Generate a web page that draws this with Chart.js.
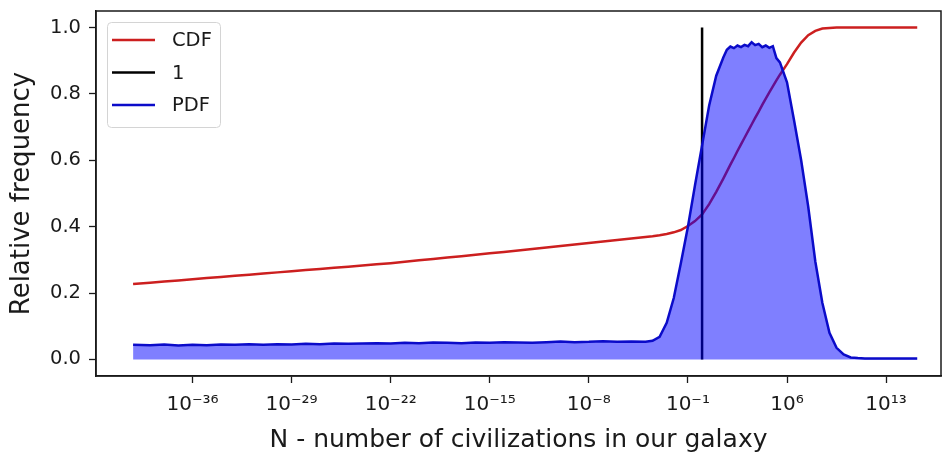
<!DOCTYPE html>
<html>
<head>
<meta charset="utf-8">
<script src="https://cdn.jsdelivr.net/npm/chart.js@4/dist/chart.umd.min.js"></script>
<style>
  html, body { margin: 0; padding: 0; background: #ffffff; }
  #wrap { width: 944px; height: 453px; }
</style>
</head>
<body>
<div id="wrap"><canvas id="chart" width="944" height="453"></canvas></div>
<script>
// log10(N) sample positions shared by both curves
const logN = [
  -40.2, -39, -38, -37, -36, -35, -34, -33, -32, -31, -30, -29, -28, -27, -26, -25,
  -24, -23, -22, -21, -20, -19, -18, -17, -16, -15, -14, -13, -12, -11, -10, -9,
  -8, -7, -6, -5, -4,
  -3.5, -3, -2.5, -2, -1.5, -1, -0.5, 0, 0.5, 1, 1.5, 1.75, 2, 2.25, 2.5, 2.75,
  3, 3.25, 3.5, 3.75, 4, 4.25, 4.5, 4.75, 5, 5.25, 5.5, 6, 6.5, 7, 7.5, 8, 8.5,
  9, 9.5, 10, 10.5, 11, 11.5, 12, 12.5, 13, 13.5, 14, 14.5, 15, 15.2
];

// probability density (relative frequency per bin)
const pdf = [
  0.044, 0.043, 0.045, 0.042, 0.044, 0.043, 0.045, 0.044, 0.046, 0.044, 0.046, 0.045,
  0.047, 0.046, 0.048, 0.047, 0.048, 0.049, 0.048, 0.050, 0.049, 0.051, 0.050, 0.049,
  0.051, 0.050, 0.052, 0.051, 0.050, 0.052, 0.054, 0.052, 0.053, 0.055, 0.053, 0.054,
  0.053,
  0.056, 0.068, 0.110, 0.185, 0.290, 0.400, 0.525, 0.645, 0.765, 0.855, 0.910, 0.933,
  0.943, 0.938, 0.946, 0.941, 0.948, 0.944, 0.956, 0.947, 0.951, 0.941, 0.946, 0.939,
  0.944, 0.908, 0.895, 0.835, 0.720, 0.600, 0.460, 0.295, 0.170, 0.080, 0.035, 0.015,
  0.006, 0.004, 0.003, 0.003, 0.003, 0.003, 0.003, 0.003, 0.003, 0.003, 0.003
];

// cumulative distribution
const cdf = [
  0.227, 0.231, 0.2346, 0.2381, 0.2415, 0.245, 0.2485, 0.252, 0.2554, 0.2588, 0.2623,
  0.2658, 0.2692, 0.2727, 0.2761, 0.2796, 0.2831, 0.2865, 0.290, 0.2942, 0.2985, 0.3027,
  0.307, 0.3112, 0.3154, 0.3197, 0.3239, 0.3282, 0.3326, 0.3371, 0.3416, 0.3461, 0.3506,
  0.3551, 0.3596, 0.3641, 0.3686,
  0.371, 0.374, 0.378, 0.383, 0.390, 0.402, 0.417, 0.437, 0.468, 0.505, 0.545, 0.566,
  0.587, 0.607, 0.628, 0.648, 0.668, 0.688, 0.708, 0.728, 0.747, 0.767, 0.786, 0.805,
  0.823, 0.841, 0.858, 0.890, 0.925, 0.955, 0.977, 0.990, 0.997, 0.999, 1.0, 1.0,
  1.0, 1.0, 1.0, 1.0, 1.0, 1.0, 1.0, 1.0, 1.0, 1.0, 1.0
];

// reference marker at N = 1
const markerN = 1;
const markerSpan = [0, 1];

const seriesLabels = ['CDF', '1', 'PDF'];
const xTickExponents = [-36, -29, -22, -15, -8, -1, 6, 13];
const yTickValues = [0, 0.2, 0.4, 0.6, 0.8, 1.0];
const xTitle = 'N - number of civilizations in our galaxy';
const yTitle = 'Relative frequency';

const FONT = '"DejaVu Sans", "Liberation Sans", sans-serif';
const INK = '#1a1a1a';

const SUP = { '-': '\u207B', '0': '\u2070', '1': '\u00B9', '2': '\u00B2', '3': '\u00B3',
  '4': '\u2074', '5': '\u2075', '6': '\u2076', '7': '\u2077', '8': '\u2078', '9': '\u2079' };
const powerLabel = (e) => '10' + String(e).split('').map(c => SUP[c]).join('');

const toPoints = (ys) => logN.map((e, i) => ({ x: Math.pow(10, e), y: ys[i] }));

// box border on all four sides of the plot area
const frame = {
  id: 'frame',
  afterDatasetsDraw(chart) {
    const { ctx, chartArea: a } = chart;
    ctx.save();
    ctx.strokeStyle = INK;
    ctx.lineWidth = 1.5;
    ctx.strokeRect(a.left, a.top, a.right - a.left, a.bottom - a.top);
    ctx.restore();
  }
};

// legend box in the upper-left corner of the plot area
const legendBox = {
  id: 'legendBox',
  afterDraw(chart) {
    const { ctx, chartArea: a } = chart;
    const x = a.left + 11, y = a.top + 11, w = 113, h = 105;
    ctx.save();
    ctx.beginPath();
    ctx.roundRect(x + 0.5, y + 0.5, w, h, 4);
    ctx.fillStyle = 'rgba(255,255,255,0.8)';
    ctx.fill();
    ctx.strokeStyle = '#d4d4d4';
    ctx.lineWidth = 1;
    ctx.stroke();
    ctx.font = '19.5px ' + FONT;
    ctx.textBaseline = 'middle';
    chart.data.datasets.forEach((ds, i) => {
      const cy = y + 18 + i * 32.5;
      ctx.beginPath();
      ctx.moveTo(x + 5, cy);
      ctx.lineTo(x + 48, cy);
      ctx.strokeStyle = ds.borderColor;
      ctx.lineWidth = 2.5;
      ctx.stroke();
      ctx.fillStyle = INK;
      ctx.fillText(ds.label, x + 65, cy + 1);
    });
    ctx.restore();
  }
};

new Chart(document.getElementById('chart'), {
  type: 'line',
  data: {
    datasets: [
      {
        label: seriesLabels[0],
        data: toPoints(cdf),
        borderColor: '#cc1f1f',
        borderWidth: 2.5,
        pointRadius: 0,
        fill: false,
        order: 3
      },
      {
        label: seriesLabels[1],
        data: markerSpan.map(v => ({ x: markerN, y: v })),
        borderColor: '#000000',
        borderWidth: 2.5,
        pointRadius: 0,
        fill: false,
        order: 2
      },
      {
        label: seriesLabels[2],
        data: toPoints(pdf),
        borderColor: '#0b0bc9',
        backgroundColor: 'rgba(0,0,255,0.5)',
        borderWidth: 2.5,
        pointRadius: 0,
        fill: 'origin',
        order: 1
      }
    ]
  },
  options: {
    responsive: false,
    animation: false,
    devicePixelRatio: 1,
    layout: { padding: { top: 11, right: 3, left: 0, bottom: 0 } },
    plugins: {
      legend: { display: false },
      tooltip: { enabled: false }
    },
    scales: {
      x: {
        type: 'logarithmic',
        min: Math.pow(10, -42.82),
        max: Math.pow(10, 16.88),
        afterBuildTicks: (s) => { s.ticks = xTickExponents.map(e => ({ value: Math.pow(10, e) })); },
        afterFit: (s) => { s.height = 77; s.paddingLeft = 0; s.paddingRight = 0; },
        grid: { display: true, drawOnChartArea: false, drawTicks: true, tickLength: 7, tickColor: INK, tickWidth: 1.3 },
        border: { display: true, color: INK, width: 1.5 },
        ticks: {
          autoSkip: false,
          maxRotation: 0,
          padding: 10,
          color: INK,
          font: { family: FONT, size: 20 },
          callback: (v) => powerLabel(Math.round(Math.log10(v)))
        },
        title: {
          display: true,
          text: xTitle,
          color: INK,
          font: { family: FONT, size: 25, lineHeight: 1.0 },
          padding: { top: -2, bottom: 0 }
        }
      },
      y: {
        type: 'linear',
        min: -0.05,
        max: 1.05,
        afterBuildTicks: (s) => { s.ticks = yTickValues.map(v => ({ value: v })); },
        afterFit: (s) => { s.width = 96; s.paddingTop = 0; s.paddingBottom = 0; },
        grid: { display: true, drawOnChartArea: false, drawTicks: true, tickLength: 7, tickColor: INK, tickWidth: 1.3 },
        border: { display: true, color: INK, width: 1.5 },
        ticks: {
          padding: 8,
          color: INK,
          font: { family: FONT, size: 19.5 },
          callback: (v) => Number(v).toFixed(1)
        },
        title: {
          display: true,
          text: yTitle,
          color: INK,
          font: { family: FONT, size: 26, lineHeight: 1.0 },
          padding: { top: 9, bottom: 0 }
        }
      }
    }
  },
  plugins: [frame, legendBox]
});
</script>
</body>
</html>
